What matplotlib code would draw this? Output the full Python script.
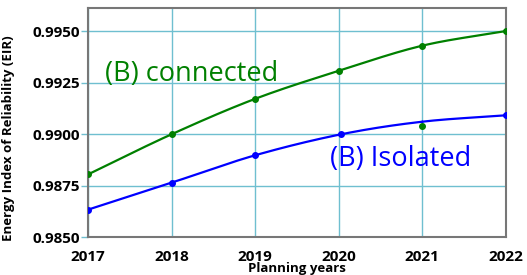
import numpy as np
import matplotlib.pyplot as plt

years = [2017, 2018, 2019, 2020, 2021, 2022]
connected = [0.98804, 0.98999, 0.99171, 0.99307, 0.99429, 0.99500]
iso_x = [2017, 2018, 2019, 2020.03, 2021, 2022]
isolated = [0.98633, 0.98764, 0.98897, 0.98999, 0.99060, 0.99091]
stray_x = [2021]
stray_y = [0.99040]

grid_c = '#6fbfd0'


def smooth(x, y, n=30):
    # catmull-rom style smoothing like a spreadsheet "smoothed line"
    x = np.asarray(x, float)
    y = np.asarray(y, float)
    px = np.concatenate([[2 * x[0] - x[1]], x, [2 * x[-1] - x[-2]]])
    py = np.concatenate([[2 * y[0] - y[1]], y, [2 * y[-1] - y[-2]]])
    ox, oy = [], []
    t = np.linspace(0, 1, n)
    for i in range(1, len(px) - 2):
        for p, o in ((px, ox), (py, oy)):
            p0, p1, p2, p3 = p[i - 1], p[i], p[i + 1], p[i + 2]
            o.extend(0.5 * ((2 * p1) + (-p0 + p2) * t
                            + (2 * p0 - 5 * p1 + 4 * p2 - p3) * t ** 2
                            + (-p0 + 3 * p1 - 3 * p2 + p3) * t ** 3))
    return ox, oy


fig = plt.figure(figsize=(5.27, 2.75), dpi=100)
ax = fig.add_axes([0.167, 0.138, 0.793, 0.833])

sx, sy = smooth(years, connected)
ax.plot(sx, sy, color='#008000', lw=1.6, zorder=3)
ax.plot(years, connected, 'o', color='#008000', ms=4, zorder=4)

sx, sy = smooth(iso_x, isolated)
ax.plot(sx, sy, color='#0000ff', lw=1.6, zorder=3)
ax.plot(iso_x, isolated, 'o', color='#0000ff', ms=4, markevery=[0, 1, 2, 3, 5], zorder=4)
ax.plot(stray_x, stray_y, 'o', color='#008000', ms=4, zorder=4)

ax.set_xlim(2017, 2022)
ax.set_ylim(0.985, 0.99612)
ax.set_xticks(years)
ax.set_yticks([0.985, 0.9875, 0.99, 0.9925, 0.995])
ax.set_yticklabels(['0.9850', '0.9875', '0.9900', '0.9925', '0.9950'])
ax.grid(True, color=grid_c, lw=1)
ax.tick_params(axis='y', length=5, color=grid_c, width=1, pad=1)
ax.tick_params(axis='x', length=0, pad=9)
for lab in ax.get_xticklabels() + ax.get_yticklabels():
    lab.set_fontweight('bold')
    lab.set_fontsize(11)
    lab.set_family('Open Sans')
for s in ax.spines.values():
    s.set_color('#777777')
    s.set_linewidth(1.5)

ax.set_xlabel('Planning years', fontsize=9.5, fontweight='bold', family='Open Sans', labelpad=-1)
ax.set_ylabel('Energy Index of Reliability (EIR)', fontsize=9.5, fontweight='bold', family='Open Sans')
ax.yaxis.set_label_coords(-0.175, 0.432)

ax.text(2017.2, 0.9929, '(B) connected', color='#008000', fontsize=19.5, family='Open Sans', va='center')
ax.text(2019.9, 0.9888, '(B) Isolated', color='#0000ff', fontsize=19.5, family='Open Sans', va='center')

fig.savefig('out.png', dpi=100)
